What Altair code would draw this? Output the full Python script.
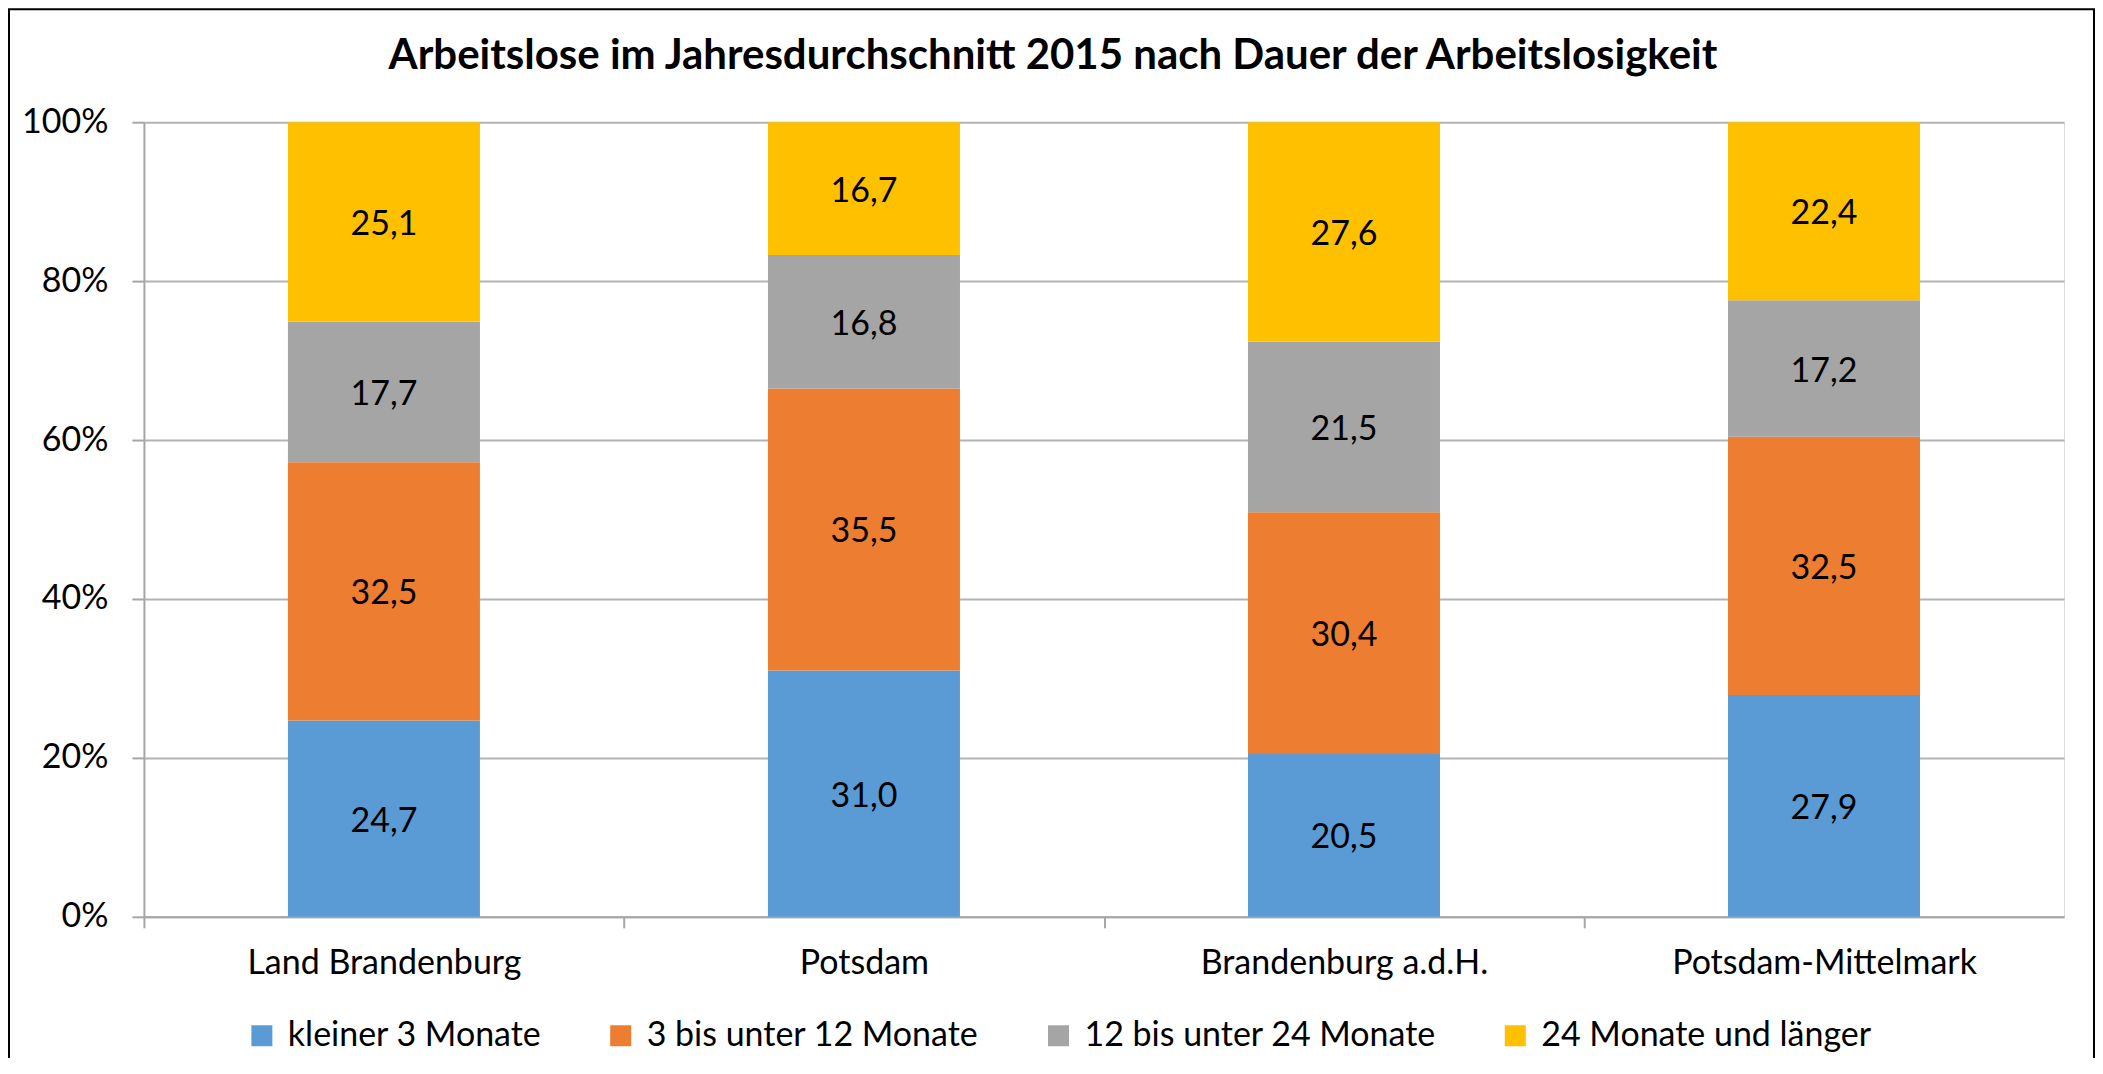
import altair as alt
import pandas as pd

categories = ["Land Brandenburg", "Potsdam", "Brandenburg a.d.H.", "Potsdam-Mittelmark"]
series = ["kleiner 3 Monate", "3 bis unter 12 Monate", "12 bis unter 24 Monate", "24 Monate und länger"]
colors = ["#5B9BD5", "#ED7D31", "#A5A5A5", "#FFC000"]

kleiner_3 = [24.7, 31.0, 20.5, 27.9]
bis_12 = [32.5, 35.5, 30.4, 32.5]
bis_24 = [17.7, 16.8, 21.5, 17.2]
ab_24 = [25.1, 16.7, 27.6, 22.4]

y_ticks = [0, 20, 40, 60, 80, 100]
title_text = "Arbeitslose im Jahresdurchschnitt 2015 nach Dauer der Arbeitslosigkeit"

rows = []
for si, (s, vals) in enumerate(zip(series, [kleiner_3, bis_12, bis_24, ab_24])):
    for c, v in zip(categories, vals):
        rows.append({"cat": c, "series": s, "k": si, "value": v})
df = pd.DataFrame(rows)

FONT = "Lato"
FS = 34
W, H = 1921, 795
AX = "#A6A6A6"
STEP = W / len(categories)
P_IN, P_OUT = 0.6, 0.3
EDGE = P_OUT * STEP  # distance from category boundary to bar edge

yscale = alt.Scale(domain=[0, 100], nice=False)
xscale = alt.Scale(paddingInner=P_IN, paddingOuter=P_OUT)

base = alt.Chart(df)

bars = base.mark_bar().encode(
    x=alt.X("cat:N", sort=categories, scale=xscale,
            axis=alt.Axis(title=None, labelAngle=0, labelFontSize=FS, labelFont=FONT,
                          labelColor="black", labelPadding=19, bandPosition=0,
                          tickOffset=-EDGE, labelOffset=EDGE,
                          tickSize=11, tickColor=AX, tickWidth=2, domainColor=AX,
                          domainWidth=2, grid=False, labelLimit=600)),
    y=alt.Y("value:Q", stack="zero", scale=yscale,
            axis=alt.Axis(values=y_ticks, labelExpr="datum.value + '%'", title=None,
                          grid=True, gridColor="#B3B3B3", gridWidth=2, tickSize=12,
                          tickColor=AX, tickWidth=2, domainColor=AX, domainWidth=2,
                          labelFont=FONT, labelFontSize=FS, labelColor="black",
                          labelPadding=24)),
    color=alt.Color("series:N", scale=alt.Scale(domain=series, range=colors),
                    legend=alt.Legend(title=None, orient="none", direction="horizontal",
                                      legendX=101, legendY=897, symbolType="square",
                                      symbolSize=441, symbolStrokeWidth=0,
                                      labelFont=FONT, labelFontSize=FS, labelColor="black",
                                      labelOffset=9, columnPadding=62, labelLimit=600,
                                      padding=0)),
    order=alt.Order("k:Q", sort="ascending"),
)

labels = base.transform_window(
    cum="sum(value)", sort=[alt.SortField("k")], groupby=["cat"], frame=[None, 0]
).transform_calculate(
    mid="datum.cum - datum.value / 2",
    lab="replace(format(datum.value, '.1f'), '.', ',')",
).mark_text(font=FONT, fontSize=FS, color="black", dy=3).encode(
    x=alt.X("cat:N", sort=categories),
    y=alt.Y("mid:Q", scale=yscale),
    text="lab:N",
)

frame = alt.Chart(alt.Data(values=[{"f": 1}])).mark_rect(
    filled=False, stroke="black", strokeWidth=2
).encode(
    x=alt.value(-135), x2=alt.value(1951), y=alt.value(-113), y2=alt.value(1000)
)

chart = alt.layer(bars, labels, frame).properties(
    width=W, height=H,
    title=alt.TitleParams(text=title_text, font=FONT, fontSize=42, fontWeight="bold",
                          color="black", anchor="middle", dx=-51, dy=103, offset=0,
                          baseline="alphabetic"),
    autosize=alt.AutoSizeParams(type="none"),
    padding={"left": 136, "top": 114, "right": 31, "bottom": 141},
).configure_view(stroke=None).configure(background="white")

chart.save("out.html", embed_options={"renderer": "svg", "actions": False})
